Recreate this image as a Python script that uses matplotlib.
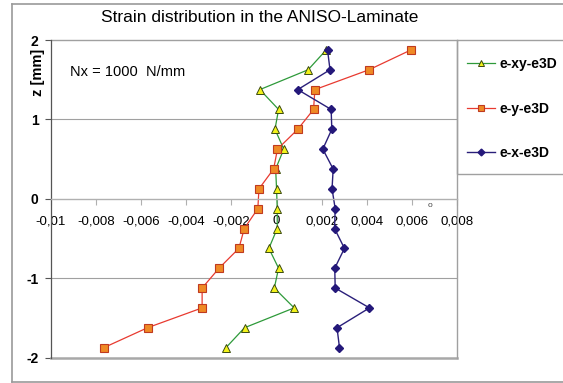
import matplotlib.pyplot as plt
from matplotlib.lines import Line2D
from matplotlib.patches import Rectangle

plt.rcParams['font.family'] = ['Liberation Sans', 'DejaVu Sans']

# through-thickness positions of the evaluation points [mm]
z = [1.875, 1.625, 1.375, 1.125, 0.875, 0.625, 0.375, 0.125,
     -0.125, -0.375, -0.625, -0.875, -1.125, -1.375, -1.625, -1.875]

# strain components along z
e_xy = [0.0022, 0.0014, -0.00074, 0.00009, -0.00007, 0.00032, -0.00004, 0.0,
        0.00003, 0.00003, -0.00034, 0.00009, -0.0001, 0.00078, -0.00142, -0.00224]
e_y = [0.00596, 0.0041, 0.0017, 0.00164, 0.00094, 0.00004, -0.00013, -0.00078,
       -0.00083, -0.00143, -0.00167, -0.00255, -0.0033, -0.0033, -0.00572, -0.00765]
e_x = [0.00226, 0.00237, 0.00094, 0.00242, 0.00245, 0.00205, 0.00251, 0.00246,
       0.0026, 0.00257, 0.00301, 0.00258, 0.0026, 0.00412, 0.00268, 0.00279]

x_ticks = [-0.01, -0.008, -0.006, -0.004, -0.002, 0, 0.002, 0.004, 0.006, 0.008]
x_tick_labels = ["-0,01", "-0,008", "-0,006", "-0,004", "-0,002", "0",
                 "0,002", "0,004", "0,006", "0,008"]
y_ticks = [-2, -1, 0, 1, 2]

W, H = 563, 383
fig = plt.figure(figsize=(W / 100, H / 100), dpi=100)

def fx(px):
    return px / W

def fy(py):
    return 1 - py / H

frame_col = '#9a9a9a'
# outer chart frame (runs off the right edge)
fig.add_artist(Line2D([fx(12), fx(12)], [fy(4), fy(382)], color=frame_col, lw=1.2))
fig.add_artist(Line2D([fx(12), 1], [fy(4), fy(4)], color=frame_col, lw=1.2))
fig.add_artist(Line2D([fx(12), 1], [fy(382), fy(382)], color=frame_col, lw=1.2))

ax = fig.add_axes([fx(51), fy(357.5), fx(457) - fx(51), fy(40) - fy(357.5)])
ax.set_xlim(-0.01, 0.008)
ax.set_ylim(-2, 2)

# plot border and gridlines
for s in ['top', 'right']:
    ax.spines[s].set_visible(False)
ax.axhline(2, color='#a0a0a0', lw=1.0, clip_on=False)
ax.axhline(-2, color='#a8a8a8', lw=1.8, clip_on=False)
ax.axvline(0.008, color='#a0a0a0', lw=1.0, clip_on=False)
for g in [1, -1]:
    ax.axhline(g, color='#a0a0a0', lw=0.8)

ax.spines['left'].set_color('#555555')
ax.spines['left'].set_linewidth(0.9)
ax.spines['bottom'].set_position(('data', 0))
ax.spines['bottom'].set_color('#b0b0b0')
ax.spines['bottom'].set_linewidth(1.0)

ax.set_xticks(x_ticks)
ax.set_xticklabels(x_tick_labels, fontsize=9.5)
ax.set_yticks(y_ticks)
ax.set_yticklabels([str(v) for v in y_ticks], fontsize=10, fontweight='bold')
ax.tick_params(axis='x', direction='out', length=4, pad=8, color='#b0b0b0')
ax.tick_params(axis='y', direction='out', length=4, pad=5, color='#555555')

l1, = ax.plot(e_xy, z, color='#2e9a3a', lw=0.9, marker='^', markersize=6,
              markerfacecolor='#f2f21a', markeredgecolor='#3a4a10', markeredgewidth=0.7)
l2, = ax.plot(e_y, z, color='#e83a30', lw=0.9, marker='s', markersize=5.6,
              markerfacecolor='#ef8a25', markeredgecolor='#c03a20', markeredgewidth=0.8)
l3, = ax.plot(e_x, z, color='#2a1f7a', lw=1.0, marker='D', markersize=4.3,
              markerfacecolor='#24187a', markeredgecolor='#24187a')

ax.text(0.0068, -0.09, 'o', fontsize=6, color='#444444', ha='center', va='center')

ax.text(0.047, 0.9, 'Nx = 1000  N/mm', transform=ax.transAxes, fontsize=10.5,
        ha='left', va='center')

fig.text(fx(38), fy(72), 'z [mm]', rotation=90, fontsize=10.5, fontweight='bold',
         ha='center', va='center')
fig.text(fx(260), fy(17), 'Strain distribution in the ANISO-Laminate', fontsize=12.5,
         ha='center', va='center')

# legend box, open towards the right edge
fig.add_artist(Rectangle((fx(457), fy(174)), 1, fy(40) - fy(174), fill=False,
                         edgecolor='#a0a0a0', lw=1.0))
fig.legend([l1, l2, l3], ['e-xy-e3D', 'e-y-e3D', 'e-x-e3D'], loc='upper left',
           bbox_to_anchor=(fx(456), fy(46)), frameon=False,
           prop={'weight': 'bold', 'size': 10}, handlelength=2.0,
           handletextpad=0.3, labelspacing=2.2, borderpad=0.3,
           markerscale=0.8)

fig.savefig('out.png', dpi=100)
